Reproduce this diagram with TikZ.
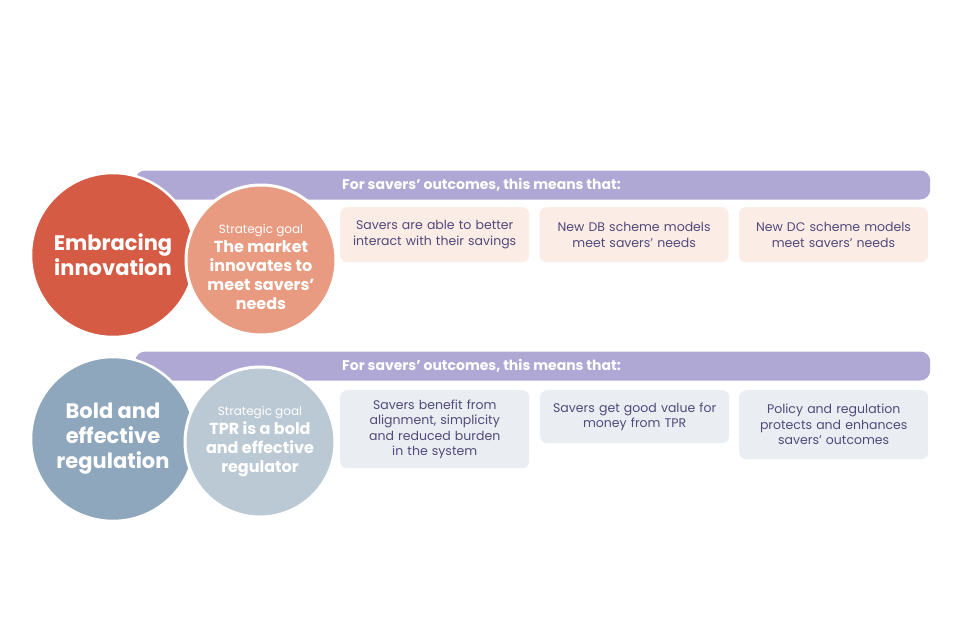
\documentclass[tikz,border=0pt]{standalone}
\usepackage{fontspec}
\setmainfont{Poppins}
\usetikzlibrary{positioning}

\definecolor{meanspurple}{HTML}{B0A8D4}
\definecolor{innored}{HTML}{D65B45}
\definecolor{innosalmon}{HTML}{E89B80}
\definecolor{innopink}{HTML}{FBECE5}
\definecolor{regblue}{HTML}{8FA7BC}
\definecolor{reglight}{HTML}{BBC9D5}
\definecolor{regpale}{HTML}{EAEEF3}
\definecolor{outtext}{HTML}{51497A}

\tikzset{
	themecirc/.style={circle, draw=white, line width=2.5pt, minimum size=164pt,
		inner sep=0pt, text=white, align=center,
		font=\fontsize{21}{25}\selectfont\bfseries},
	goalcirc/.style={circle, draw=white, line width=3pt, minimum size=150pt,
		inner sep=0pt},
	goaltext/.style={text=white, align=center, inner sep=0pt,
		font=\fontsize{16}{19}\selectfont\bfseries},
	meansbar/.style={fill=meanspurple, rounded corners=10pt, minimum height=29pt,
		minimum width=795pt, anchor=west, inner sep=0pt},
	meanstext/.style={anchor=west, text=white, inner sep=0pt,
		font=\fontsize{14}{16}\selectfont\bfseries},
	outbox/.style={rounded corners=7pt, minimum width=189pt, text width=186pt,
		align=center, inner sep=0pt, text=outtext,
		font=\fontsize{12.5}{15.5}\selectfont},
}
\newcommand{\goalhead}{{\fontsize{12}{19}\selectfont\mdseries Strategic goal}}

\begin{document}
\begin{tikzpicture}[x=1pt, y=-1pt]
	\useasboundingbox[fill=white] (0,0) rectangle (960,640);
	% embracing innovation
	\node[meansbar] (bar1) at (135,185) {};
	\node[meanstext] (bartext1) at ([xshift=207pt]bar1.west) {For savers’ outcomes, this means that:};
	\node[themecirc, fill=innored] (theme1) at (113,255) {Embracing\\innovation};
	\node[goalcirc, fill=innosalmon] (goal1) at (261,260) {};
	\node[goaltext] (goaltext1) at ([yshift=-7pt]goal1.center) {\goalhead\\The market\\innovates to\\meet savers’\\needs};
	%
	\node[outbox, fill=innopink, minimum height=55pt, anchor=north west] (out11) at (340,207)
		{Savers are able to better\\interact with their savings};
	\node[outbox, fill=innopink, minimum height=55pt, right=10pt of out11] (out12)
		{New DB scheme models\\meet savers’ needs};
	\node[outbox, fill=innopink, minimum height=55pt, right=10pt of out12] (out13)
		{New DC scheme models\\meet savers’ needs};
	% bold and effective regulation
	\node[meansbar] (bar2) at (135,366) {};
	\node[meanstext] (bartext2) at ([xshift=207pt]bar2.west) {For savers’ outcomes, this means that:};
	\node[themecirc, fill=regblue] (theme2) at (113,439) {Bold and\\effective\\regulation};
	\node[goalcirc, fill=reglight] (goal2) at (260,442) {};
	\node[goaltext] (goaltext2) at (goal2.center) {\goalhead\\TPR is a bold\\and effective\\regulator};
	%
	\node[outbox, fill=regpale, minimum height=78pt, anchor=north west] (out21) at (340,390)
		{Savers benefit from\\alignment, simplicity\\and reduced burden\\in the system};
	\node[outbox, fill=regpale, minimum height=53pt, anchor=north west] (out22) at (540,390)
		{Savers get good value for\\money from TPR};
	\node[outbox, fill=regpale, minimum height=69pt, anchor=north west] (out23) at (739,390)
		{Policy and regulation\\protects and enhances\\savers’ outcomes};
\end{tikzpicture}
\end{document}
